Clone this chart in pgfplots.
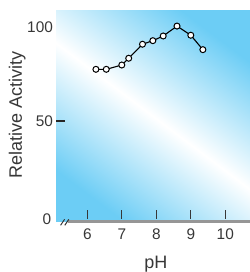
\documentclass[border=0pt]{standalone}
\usepackage{fontspec}
\setmainfont{Liberation Sans}
\usepackage{pgfplots}
\pgfplotsset{compat=1.18}
\definecolor{skyb}{RGB}{108,205,245}
\definecolor{txt}{RGB}{55,55,55}
\definecolor{axgray}{RGB}{150,150,150}
\begin{document}
\begin{tikzpicture}
\begin{axis}[
  scale only axis, width=97pt, height=105.25pt,
  xmin=5.093, xmax=10.716, ymin=-3.79, ymax=108.65,
  axis line style={draw=none},
  clip=false,
  axis background/.style={shading=axis, bottom color=skyb, top color=skyb, middle color=white, shading angle=-37},
  tick pos=left,
  tick align=inside,
  major tick length=4.3pt,
  xtick={6,7,8,9,10},
  xtick style={draw=txt, line width=0.6pt, yshift=1.35pt},
  ytick={50},
  ytick style={draw=none},
  /pgf/number format/assume math mode=true,
  ticklabel style={font=\fontsize{7.7}{8}\selectfont, text=txt},
  xticklabel style={anchor=center, yshift=-6.5pt},
  yticklabel style={anchor=east, inner sep=0pt, xshift=-1.35pt},
  xlabel={pH}, ylabel={Relative Activity},
  label style={font=\fontsize{9}{10}\selectfont, text=txt},
  xlabel style={at={(axis description cs:0.515,0)}, anchor=center, yshift=-21.5pt},
  ylabel style={at={(axis description cs:0,0.507)}, anchor=center, rotate=0, yshift=19.35pt},
]
\addplot[black, line width=0.55pt, mark=*, mark size=1.5pt, mark options={fill=white, draw=black, line width=0.5pt}] coordinates {
  (6.25,77.5)(6.55,77.5)(7.0,79.8)(7.2,83.4)(7.6,90.9)(7.9,92.8)(8.2,95.3)(8.6,100.6)(9.0,95.7)(9.35,88.0)};
\draw[axgray, line width=1.15pt] (rel axis cs:0.062,0) -- (rel axis cs:1,0);
\draw[black!85, line width=0.7pt] (rel axis cs:0,0.4782) -- ++(4.5pt,0pt);
\draw[txt, line width=0.5pt] (rel axis cs:0,0) ++(2.3pt,-1.9pt) -- ++(2pt,3pt);
\draw[txt, line width=0.5pt] (rel axis cs:0,0) ++(4.4pt,-1.9pt) -- ++(2pt,3pt);
\node[anchor=east, inner sep=0pt, font=\fontsize{7.7}{8}\selectfont, text=txt] at (rel axis cs:0,0) [xshift=-2.15pt, yshift=1.4pt] {0};
\node[anchor=east, inner sep=0pt, font=\fontsize{7.7}{8}\selectfont, text=txt] at (axis cs:5.093,100) [xshift=-1.35pt] {100};
\end{axis}
\pgfresetboundingbox
\path (current axis.south west) ++(-28pt,-25.25pt) coordinate (a);
\path (current axis.north east) ++(0pt,5.5pt) coordinate (b);
\path[use as bounding box] (a) rectangle (b);
\end{tikzpicture}
\end{document}
